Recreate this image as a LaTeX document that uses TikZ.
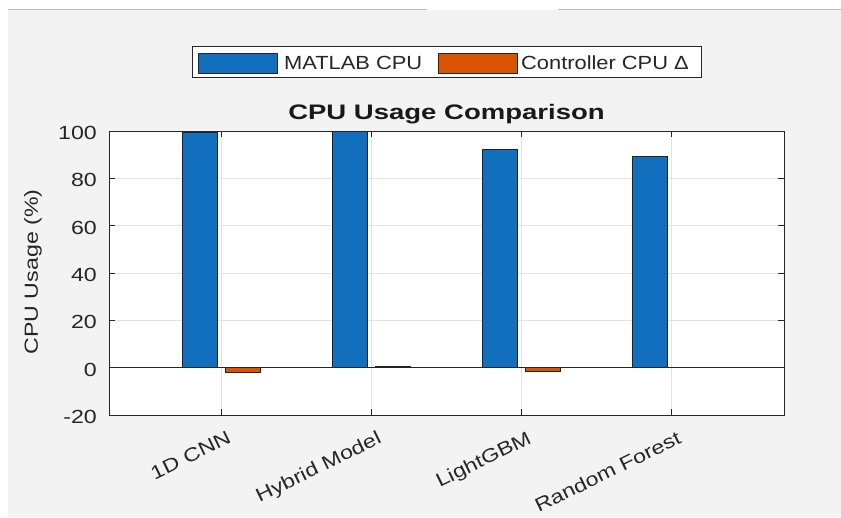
\documentclass[tikz,border=0pt]{standalone}
\usepackage{fontspec}
\setmainfont{Liberation Sans}
\newfontfamily\legfont{Liberation Sans}[FakeStretch=1.15]
\newfontfamily\axfont{Liberation Sans}[FakeStretch=1.22]
\newfontfamily\ttlfont{Liberation Sans}[FakeStretch=1.31]
\definecolor{figbg}{HTML}{F3F3F3}
\definecolor{topln}{HTML}{BBBBBB}
\definecolor{mblue}{HTML}{116FBE}
\definecolor{morange}{HTML}{D95300}
\definecolor{axc}{HTML}{262626}
\definecolor{gridc}{HTML}{E3E3E3}
\tikzset{
  barbox/.style={draw=axc!90!black, line width=0.9pt},
  gridln/.style={draw=gridc, line width=1pt},
  axline/.style={draw=axc, line width=1pt},
  tickln/.style={draw=axc, line width=1pt},
  ylab/.style={font=\axfont\fontsize{19}{22}\selectfont, text=axc, anchor=east, inner sep=0pt},
  xlab/.style={font=\axfont\fontsize{19}{22}\selectfont, text=axc, anchor=north east, inner sep=0pt, rotate=26},
  legtext/.style={font=\legfont\fontsize{19}{22}\selectfont, text=axc, anchor=base west, inner sep=0pt},
  patch/.style={draw=axc, line width=0.9pt, anchor=north west, inner sep=0pt, minimum width=79pt, minimum height=20pt}
}
\begin{document}
\begin{tikzpicture}[x=1pt,y=-1pt]
\useasboundingbox (0,0) rectangle (841,517);
\fill[white] (0,0) rectangle (841,517);
\fill[figbg] (8,10) rectangle (841,517);
\draw[topln, line width=1.5pt] (8,9.5) -- (427,9.5);
\draw[topln, line width=1.5pt] (558,9.5) -- (841,9.5);

% axes background
\fill[white] (109,131) rectangle (784,415);

\begin{scope}[shift={(71.5,367.7)}, x=150pt, y=2.367pt]
  % grid
  \foreach \v in {20,40,60,80} \draw[gridln] (0.25,\v) -- (4.75,\v);
  \foreach \c in {1,2,3,4} \draw[gridln] (\c,-20) -- (\c,100);
  % bars
  \foreach \c/\b/\o in {1/99.5/-2.0, 2/100/0.6, 3/92.4/-1.5} {
    \draw[barbox, fill=mblue] (\c-0.2571,0) rectangle (\c-0.0285,\b);
    \draw[barbox, fill=morange] (\c+0.0285,0) rectangle (\c+0.2571,\o);
  }
  \draw[barbox, fill=mblue] (4-0.2571,0) rectangle (4-0.0285,89.1);
  % baseline
  \draw[axline] (0.25,0) -- (4.75,0);
  % ticks
  \foreach \v in {-20,0,20,40,60,80,100} {
    \draw[tickln] (0.25,\v) -- ++(6pt,0);
    \draw[tickln] (4.75,\v) -- ++(-6pt,0);
  }
  \foreach \c in {1,2,3,4} {
    \draw[tickln] (\c,-20) -- ++(0,6pt);
    \draw[tickln] (\c,100) -- ++(0,-6pt);
  }
  % box
  \draw[axline] (0.25,-20) rectangle (4.75,100);
  % y tick labels
  \foreach \v/\n in {-20/ym20,0/y0,20/y20,40/y40,60/y60,80/y80,100/y100}
    \node[ylab] (\n) at ([xshift=-12pt, yshift=-2pt]0.25,\v) {\v};
  % x tick labels
  \node[xlab] (x1) at ([xshift=5pt, yshift=-15pt]1,-20) {1D CNN};
  \node[xlab] (x2) at ([xshift=5pt, yshift=-15pt]2,-20) {Hybrid Model};
  \node[xlab] (x3) at ([xshift=5pt, yshift=-15pt]3,-20) {LightGBM};
  \node[xlab] (x4) at ([xshift=5pt, yshift=-15pt]4,-20) {Random Forest};
\end{scope}

% y label
\node[font=\axfont\fontsize{19}{22}\selectfont, text=axc, rotate=90] (ylabel) at (33,272) {CPU Usage (\%)};
% title
\node[font=\ttlfont\bfseries\fontsize{21}{24}\selectfont, text=black!90, anchor=base, inner sep=0pt] (title) at (446.5,119) {CPU Usage Comparison};

% legend
\node[draw=axc, line width=1pt, fill=white, minimum width=509pt, minimum height=31pt, inner sep=0pt] (legend) at (446.5,61.5) {};
\node[patch, fill=mblue] (pA) at (198,53) {};
\node[legtext] (tA) at (284,69.5) {MATLAB CPU};
\node[patch, fill=morange] (pB) at (438,53) {};
\node[legtext] (tB) at (521,69.5) {Controller CPU Δ};
\end{tikzpicture}
\end{document}
